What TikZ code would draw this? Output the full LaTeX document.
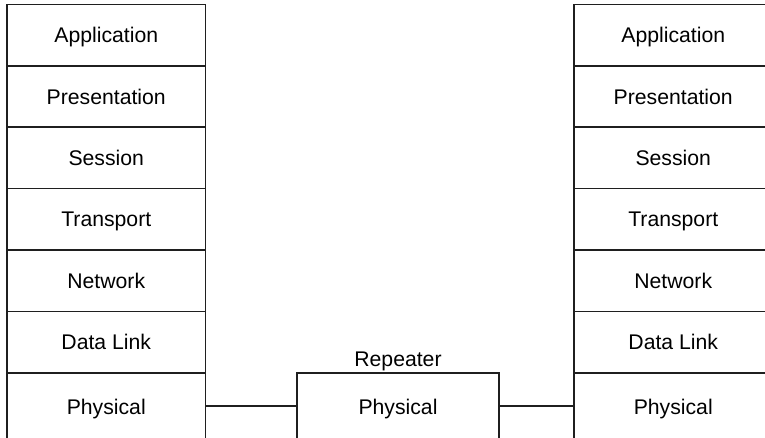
\documentclass[tikz,border=0pt]{standalone}
\usepackage{fontspec}
\setmainfont{Liberation Sans}
\begin{document}
\begin{tikzpicture}[x=1pt,y=-1pt,
  txt/.style={font=\fontsize{21.2}{25}\selectfont, text height=15.2pt, text depth=0pt, inner sep=0pt},
  layer/.style={txt, draw=black!88, line width=1.6pt, minimum width=198.5pt, minimum height=61.4pt},
  lastlayer/.style={layer, minimum height=68pt},
  link/.style={draw=black!88, line width=1.4pt}]
\useasboundingbox (0,0) rectangle (765,438);
\clip (0,0) rectangle (765,438);
\foreach \n/\t [count=\i from 0] in {app/Application,pres/Presentation,ses/Session,tra/Transport,net/Network,dl/Data Link}{
  \node[layer] (L\n) at (106.25, 35.2+61.4*\i) {\t};
  \node[layer] (R\n) at (673.25, 35.2+61.4*\i) {\t};
}
\node[lastlayer] (Lphy) at (106.25, 407) {Physical};
\node[lastlayer] (Rphy) at (673.25, 407) {Physical};
\node[lastlayer, minimum width=202pt] (rep) at (398, 407) {Physical};
\node[txt] (replbl) at (398, 359) {Repeater};
\draw[link] (Lphy.east |- 0,406) -- (rep.west |- 0,406);
\draw[link] (rep.east |- 0,406) -- (Rphy.west |- 0,406);
\end{tikzpicture}
\end{document}
